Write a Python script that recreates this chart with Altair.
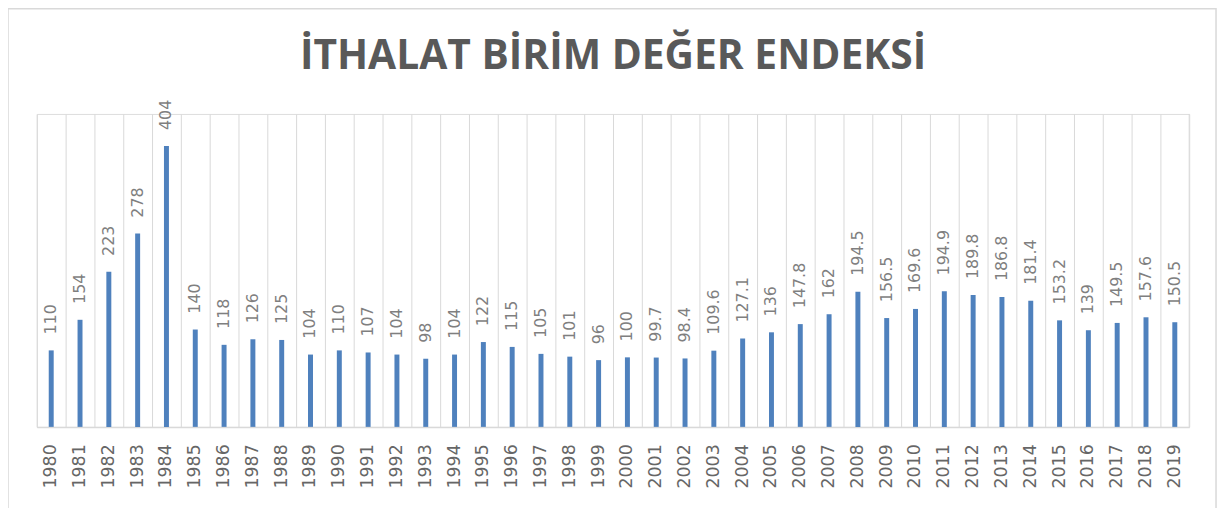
import altair as alt
import pandas as pd

years = [str(y) for y in range(1980, 2020)]
values = [110, 154, 223, 278, 404, 140, 118, 126, 125, 104,
          110, 107, 104, 98, 104, 122, 115, 105, 101, 96,
          100, 99.7, 98.4, 109.6, 127.1, 136, 147.8, 162, 194.5, 156.5,
          169.6, 194.9, 189.8, 186.8, 181.4, 153.2, 139, 149.5, 157.6, 150.5]
labels = ["110", "154", "223", "278", "404", "140", "118", "126", "125", "104",
          "110", "107", "104", "98", "104", "122", "115", "105", "101", "96",
          "100", "99.7", "98.4", "109.6", "127.1", "136", "147.8", "162", "194.5", "156.5",
          "169.6", "194.9", "189.8", "186.8", "181.4", "153.2", "139", "149.5", "157.6", "150.5"]
title_text = "İTHALAT BİRİM DEĞER ENDEKSİ"

df = pd.DataFrame({"year": years, "value": values, "label": labels})

W, H = 1160, 315

x = alt.X("year:O", sort=years, title=None,
          scale=alt.Scale(paddingInner=0, paddingOuter=0),
          axis=alt.Axis(labelAngle=270, labelAlign="right", labelBaseline="middle",
                        labelFont="DejaVu Sans", labelFontSize=17.5, labelColor="#666666",
                        labelPadding=17, ticks=False, grid=True, gridColor="#d9d9d9",
                        gridWidth=1, bandPosition=0, domainColor="#d9d9d9", domainWidth=1.5))
y = alt.Y("value:Q", scale=alt.Scale(domain=[0, 450]), axis=None)

bars = alt.Chart(df).mark_bar(size=5, color="#4F81BD").encode(x=x, y=y)

text = alt.Chart(df).mark_text(angle=270, align="left", baseline="middle", dx=16,
                               font="DejaVu Sans", fontSize=16, color="#7f7f7f").encode(
    x=x, y=y, text="label:N")

one = pd.DataFrame({"a": [0]})

edge = alt.Chart(one).mark_rule(color="#d9d9d9", strokeWidth=1).encode(
    x=alt.value(W), y=alt.value(0), y2=alt.value(H))

border = alt.Chart(one).mark_rect(
    fillOpacity=0, stroke="#d9d9d9", strokeWidth=1.5).encode(
    x=alt.value(-29), x2=alt.value(1187), y=alt.value(-106), y2=alt.value(440))

title = alt.Chart(one).mark_text(font="Open Sans", fontSize=41, fontWeight="bold",
                                 color="#595959", align="center", baseline="alphabetic").encode(
    x=alt.value(W / 2), y=alt.value(-45), text=alt.value(title_text))

chart = alt.layer(border, bars, text, edge, title).properties(
    width=W, height=H,
    autosize=alt.AutoSizeParams(type="none"),
    padding={"left": 29, "top": 105, "right": 32, "bottom": 80},
).configure_view(stroke=None).configure(background="white")

chart.save("out.html", embed_options={"renderer": "svg", "actions": False})
